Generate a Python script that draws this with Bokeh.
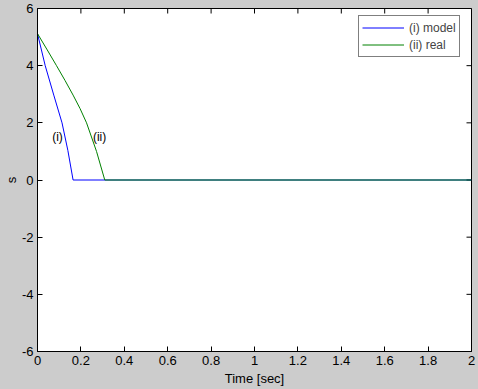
import math
from bokeh.plotting import figure
from bokeh.models import Range1d, LinearAxis, FixedTicker, Legend, LegendItem
from bokeh.core.properties import value
from bokeh.embed import file_html
from bokeh.resources import INLINE

# ---- data ----
t_model = [0.0, 0.0355, 0.075, 0.113, 0.14, 0.164, 2.0]
s_model = [5.12, 4.0, 2.97, 2.0, 1.03, 0.0, 0.0]
t_real = [0.0, 0.045, 0.0876, 0.127, 0.164, 0.196, 0.226, 0.272, 0.31, 2.0]
s_real = [5.12, 4.55, 4.0, 3.48, 2.97, 2.5, 2.0, 1.0, 0.0, 0.0]
series_names = ["(i) model", "(ii) real"]
curve_tags = ["(i)", "(ii)"]
tag_t = [0.092, 0.286]
tag_s = [1.49, 1.49]
x_ticks = [0, 0.2, 0.4, 0.6, 0.8, 1, 1.2, 1.4, 1.6, 1.8, 2]
x_tick_labels = ["0", "0.2", "0.4", "0.6", "0.8", "1", "1.2", "1.4", "1.6", "1.8", "2"]
y_ticks = [-6, -4, -2, 0, 2, 4, 6]
y_tick_labels = ["-6", "-4", "-2", "0", "2", "4", "6"]
x_title = "Time [sec]"
y_title = "s"

FONT = "Liberation Sans"
GRAY = "#cccccc"
X_MIN, X_MAX = 0, 2
Y_MIN, Y_MAX = -6, 6

p = figure(width=478, height=389, output_backend="svg", toolbar_location=None,
           x_range=Range1d(X_MIN, X_MAX), y_range=Range1d(Y_MIN, Y_MAX),
           min_border_left=37, min_border_right=7, min_border_top=8, min_border_bottom=38,
           x_axis_location=None, y_axis_location=None)
p.background_fill_color = "white"
p.border_fill_color = GRAY
p.outline_line_color = "black"
p.xgrid.visible = False
p.ygrid.visible = False


def style_axis(ax, ticks, labels):
    ax.ticker = FixedTicker(ticks=ticks)
    ax.major_label_overrides = {t: l for t, l in zip(ticks, labels)}
    ax.major_tick_in = 5
    ax.major_tick_out = 0
    ax.minor_tick_in = 0
    ax.minor_tick_out = 0
    ax.axis_line_color = "black"
    ax.major_tick_line_color = "black"
    ax.major_label_text_font = FONT
    ax.major_label_text_color = "black"
    ax.major_label_text_font_size = "13px"
    ax.axis_label_text_font = FONT
    ax.axis_label_text_font_size = "13px"
    ax.axis_label_text_font_style = "normal"
    ax.axis_label_text_color = "black"


xb = LinearAxis(axis_label=x_title)
style_axis(xb, x_ticks, x_tick_labels)
xb.major_label_standoff = 4
xb.axis_label_standoff = 3
p.add_layout(xb, "below")

yl = LinearAxis(axis_label=y_title)
style_axis(yl, y_ticks, y_tick_labels)
yl.major_label_standoff = 4
yl.axis_label_standoff = 0
p.add_layout(yl, "left")

# inward tick marks on the top and right edges of the box (half of each dash is clipped)
p.scatter(x=x_ticks, y=[Y_MAX] * len(x_ticks), marker="dash", angle=math.pi / 2,
          size=10, line_color="black", line_width=1)
p.scatter(x=[X_MAX] * len(y_ticks), y=y_ticks, marker="dash",
          size=10, line_color="black", line_width=1)

r1 = p.line(t_model, s_model, line_color="#0000ff", line_width=1)
r2 = p.line(t_real, s_real, line_color="#008000", line_width=1)

p.text(x=tag_t, y=tag_s, text=curve_tags, text_font=value(FONT), text_font_size="12px",
       text_align="center", text_baseline="middle", text_color="black")

legend = Legend(items=[LegendItem(label=series_names[0], renderers=[r1]),
                       LegendItem(label=series_names[1], renderers=[r2])],
                location=(321, 294))
legend.padding = 3
legend.spacing = 0
legend.glyph_width = 42
legend.glyph_height = 17
legend.label_height = 17
legend.label_standoff = 5
legend.label_text_font = FONT
legend.label_text_font_size = "12px"
legend.border_line_color = "black"
legend.border_line_width = 1
legend.background_fill_color = "white"
legend.background_fill_alpha = 1
legend.margin = 0
p.add_layout(legend, "center")

html = file_html(p, INLINE)
html = html.replace("</head>", "<style>html,body{margin:0;padding:0;background:#cccccc;}</style></head>", 1)
open("out.html", "w").write(html)
